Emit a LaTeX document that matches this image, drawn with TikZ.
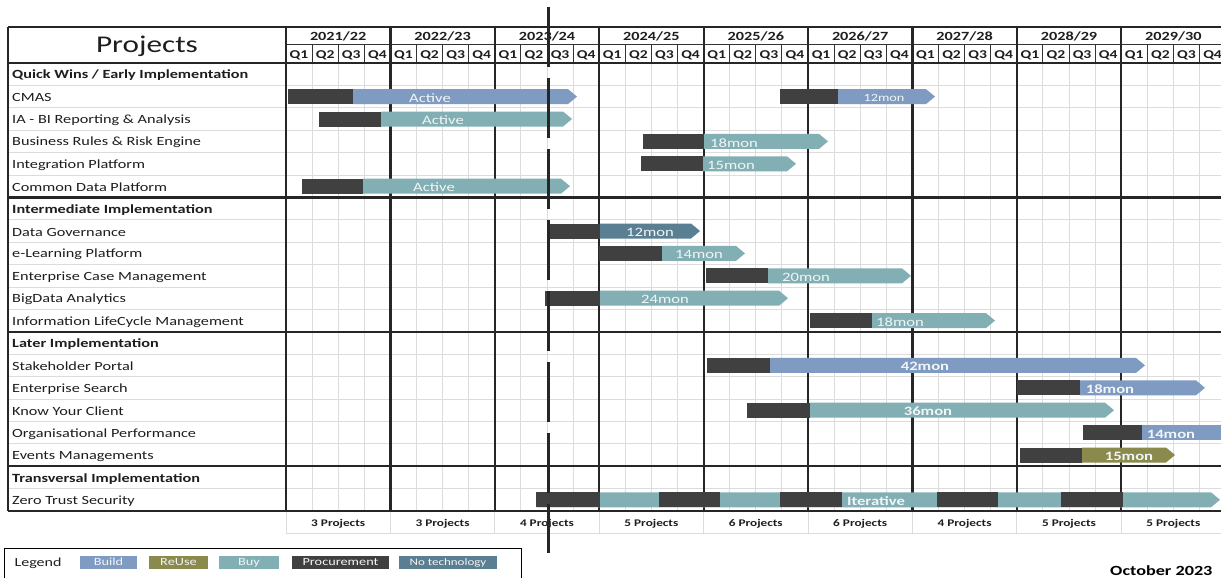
\documentclass[tikz,border=0pt]{standalone}
\usepackage{fontspec}
\setmainfont{Carlito}[FakeStretch=1.3]
\definecolor{build}{HTML}{7F9BC2}
\definecolor{buy}{HTML}{82AFB3}
\definecolor{reuse}{HTML}{8A8A4C}
\definecolor{proc}{HTML}{404040}
\definecolor{notech}{HTML}{5B7F92}
\definecolor{gridc}{HTML}{DCDCDC}
\definecolor{labc}{HTML}{1E1E1E}
\definecolor{bartxt}{HTML}{F2F5F7}
\newcommand\gbar[4]{% y, start, proc end, tip ; colour via \gcol
  \fill[proc] (#2,#1-7.5) rectangle (#3,#1+7.5);
  \fill[\gcol] (#3,#1-7.5) -- (#4-9,#1-7.5) -- (#4,#1) -- (#4-9,#1+7.5) -- (#3,#1+7.5) -- cycle;
}
\begin{document}
\begin{tikzpicture}[x=1pt,y=-1pt,
  gridl/.style={draw=gridc,line width=1pt},
  thk/.style={draw=black!85,line width=2.2pt},
  thn/.style={draw=black!80,line width=0.9pt},
  txt/.style={inner sep=0pt,yshift=-1.3pt},
  rowlab/.style={txt,anchor=west,text=labc,font=\fontsize{12.5}{14}\selectfont},
  seclab/.style={rowlab,font=\fontsize{12.5}{14}\selectfont\bfseries},
  yearlab/.style={txt,text=labc,font=\fontsize{12.5}{14}\selectfont\bfseries},
  qlab/.style={txt,text=labc,font=\fontsize{12}{14}\selectfont\bfseries},
  projtxt/.style={txt,text=labc,font=\fontsize{10.2}{12}\selectfont\bfseries},
  bl/.style={txt,text=bartxt,font=\fontsize{12.8}{14}\selectfont},
  blb/.style={txt,text=bartxt,font=\fontsize{12.8}{14}\selectfont\bfseries},
  swatch/.style={minimum height=13pt,inner sep=0pt,text height=9.5pt,text depth=2pt,text=bartxt,font=\fontsize{11}{13}\selectfont},
  nowline/.style={draw=black!85,line width=3pt,dash pattern=on 60pt off 11pt}
]
\useasboundingbox (0,0) rectangle (1221,578);
\fill[white] (0,0) rectangle (1221,578);

% light grid
\foreach \k in {1,...,36} \draw[gridl] ({286+26.1*\k},63) -- ({286+26.1*\k},511);
\foreach \i in {1,...,19} \draw[gridl] (8,{63+22.4*\i}) -- (1221,{63+22.4*\i});

% projects row
\foreach \k in {0,...,9} \draw[gridl] ({286+104.4*\k},511) -- ({286+104.4*\k},533);
\draw[gridl] (286,533) -- (1221,533);

% header
\draw[thn] (286,44) -- (1221,44);
\foreach \k in {1,2,3,5,6,7,9,10,11,13,14,15,17,18,19,21,22,23,25,26,27,29,30,31,33,34,35}
  \draw[thn] ({286+26.1*\k},44) -- ({286+26.1*\k},63);

% thick lines
\foreach \k in {0,...,8} \draw[thk] ({286+104.4*\k},27) -- ({286+104.4*\k},511);
\draw[thk] (8,27) -- (8,511);
\foreach \yy in {27,63,197.4,331.8,466.2,511} \draw[thk] (8,\yy) -- (1221,\yy);

% bars
\def\gcol{build}\gbar{96.6}{288}{353}{577}
\def\gcol{build}\gbar{96.6}{780}{838}{935}
\def\gcol{buy}\gbar{119}{319}{381}{572}
\def\gcol{buy}\gbar{141.4}{643}{704}{828}
\def\gcol{buy}\gbar{163.8}{641}{703}{796}
\def\gcol{buy}\gbar{186.2}{302}{363}{570}
\def\gcol{notech}\gbar{231}{547}{600}{700}
\def\gcol{buy}\gbar{253.4}{599}{662}{745}
\def\gcol{buy}\gbar{275.8}{706}{768}{911}
\def\gcol{buy}\gbar{298.2}{545}{600}{788}
\def\gcol{buy}\gbar{320.6}{810}{872}{995}
\def\gcol{build}\gbar{365.4}{707}{770}{1145}
\def\gcol{build}\gbar{387.8}{1017}{1080}{1205}
\def\gcol{buy}\gbar{410.2}{747}{810}{1114}
\fill[proc] (1083,425.1) rectangle (1142,440.1);
\fill[build] (1142,425.1) rectangle (1230,440.1);
\def\gcol{reuse}\gbar{455}{1020}{1082}{1175}
% zero trust
\def\gcol{buy}\gbar{499.8}{536}{537}{1220}
\foreach \a/\b in {537/600,659/720,780/842,937/998,1061/1123}
  \fill[proc] (\a,492.3) rectangle (\b,507.3);

% bar labels
\node[bl] (b1) at (430,96.6) {Active};
\node[bl,font=\fontsize{11}{13}\selectfont] (b2) at (884,96.6) {12mon};
\node[bl] (b3) at (443,119) {Active};
\node[bl] (b4) at (734,141.4) {18mon};
\node[bl] (b5) at (731,163.8) {15mon};
\node[bl] (b6) at (434,186.2) {Active};
\node[bl] (b7) at (650,231) {12mon};
\node[bl] (b8) at (699,253.4) {14mon};
\node[bl] (b9) at (806,275.8) {20mon};
\node[bl] (b10) at (665,298.2) {24mon};
\node[bl] (b11) at (900,320.6) {18mon};
\node[blb] (b12) at (925,365.4) {42mon};
\node[blb] (b13) at (1110,387.8) {18mon};
\node[blb] (b14) at (928,410.2) {36mon};
\node[blb] (b15) at (1171,432.6) {14mon};
\node[blb] (b16) at (1129,455) {15mon};
\node[blb] (b17) at (876,499.8) {Iterative};

% row labels
\node[seclab] (l0) at (12,74.2) {Quick Wins / Early Implementation};
\node[rowlab] (l1) at (12,96.6) {CMAS};
\node[rowlab] (l2) at (12,119) {IA - BI Reporting \& Analysis};
\node[rowlab] (l3) at (12,141.4) {Business Rules \& Risk Engine};
\node[rowlab] (l4) at (12,163.8) {Integration Platform};
\node[rowlab] (l5) at (12,186.2) {Common Data Platform};
\node[seclab] (l6) at (12,208.6) {Intermediate Implementation};
\node[rowlab] (l7) at (12,231) {Data Governance};
\node[rowlab] (l8) at (12,253.4) {e-Learning Platform};
\node[rowlab] (l9) at (12,275.8) {Enterprise Case Management};
\node[rowlab] (l10) at (12,298.2) {BigData Analytics};
\node[rowlab] (l11) at (12,320.6) {Information LifeCycle Management};
\node[seclab] (l12) at (12,343) {Later Implementation};
\node[rowlab] (l13) at (12,365.4) {Stakeholder Portal};
\node[rowlab] (l14) at (12,387.8) {Enterprise Search};
\node[rowlab] (l15) at (12,410.2) {Know Your Client};
\node[rowlab] (l16) at (12,432.6) {Organisational Performance};
\node[rowlab] (l17) at (12,455) {Events Managements};
\node[seclab] (l18) at (12,477.4) {Transversal Implementation};
\node[rowlab] (l19) at (12,499.8) {Zero Trust Security};

% header text
\node[txt,text=labc,font=\fontsize{24}{28}\selectfont] (ptitle) at (147,45) {Projects};
\foreach \k/\t in {0/{2021/22},1/{2022/23},2/{2023/24},3/{2024/25},4/{2025/26},5/{2026/27},6/{2027/28},7/{2028/29},8/{2029/30}}
  \node[yearlab] (y\k) at ({286+104.4*(\k+0.5)},35.5) {\t};
\foreach \k in {0,...,35}{
  \pgfmathtruncatemacro\qq{mod(\k,4)+1}
  \node[qlab] (q\k) at ({286+26.1*(\k+0.5)},54) {Q\qq};
}
\foreach \k/\t in {0/3,1/3,2/4,3/5,4/6,5/6,6/4,7/5,8/5}
  \node[projtxt] (p\k) at ({286+104.4*(\k+0.5)},522) {\t\ Projects};

% legend
\draw[black,line width=0.9pt] (4,590) -- (4,548) -- (521,548) -- (521,590);
\node[txt,text=labc,font=\fontsize{12.3}{14}\selectfont] (lg) at (38,562) {Legend};
\node[swatch,fill=build,minimum width=57pt] (s1) at (108.5,562) {Build};
\node[swatch,fill=reuse,minimum width=59pt] (s2) at (178.5,562) {ReUse};
\node[swatch,fill=buy,minimum width=60pt] (s3) at (249,562) {Buy};
\node[swatch,fill=proc,minimum width=97pt] (s4) at (340.5,562) {Procurement};
\node[swatch,fill=notech,minimum width=98pt,font=\fontsize{10}{12}\selectfont] (s5) at (448,562) {No technology};

\node[txt,text=black,font=\fontsize{14}{16}\selectfont\bfseries,anchor=west] (date) at (1110,569) {October 2023};

% now line
\coordinate (dtop) at (548,7);
\coordinate (dbot) at (548,553);
\draw[nowline] (dtop) -- (dbot);
\end{tikzpicture}
\end{document}
